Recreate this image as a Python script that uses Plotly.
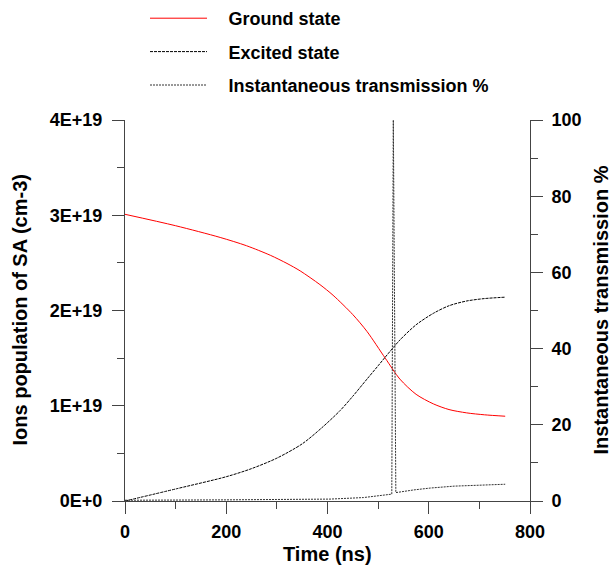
import plotly.graph_objects as go

# ---- data ----
ground_t = [0, 100, 188, 240, 287, 320, 346, 385, 411, 450, 478, 514, 543, 575, 609, 640, 675,
            710, 751]
ground_v = [3.01e19, 2.89e19, 2.767e19, 2.68e19, 2.58e19, 2.494e19, 2.416e19, 2.272e19, 2.16e19,
            1.957e19, 1.78e19, 1.50e19, 1.28e19, 1.12e19, 1.02e19, 0.96e19, 0.925e19, 0.905e19,
            0.89e19]

excited_t = [0, 103, 200, 250, 300, 350, 389, 425, 450, 478, 500, 514, 543, 575, 609, 640, 675,
             710, 751]
excited_v = [0.0, 0.13e19, 0.255e19, 0.34e19, 0.45e19, 0.60e19, 0.77e19, 0.95e19, 1.10e19,
             1.28e19, 1.42e19, 1.51e19, 1.69e19, 1.85e19, 1.97e19, 2.05e19, 2.10e19, 2.125e19,
             2.14e19]

trans_t = [0, 100, 200, 300, 405, 471, 500, 527, 530, 535, 570, 603, 650, 700, 751]
trans_v = [0.2, 0.2, 0.3, 0.4, 0.5, 0.9, 1.3, 1.8, 100, 2.2, 2.9, 3.4, 3.9, 4.2, 4.4]

left_tickvals = [0, 1e19, 2e19, 3e19, 4e19]
left_ticktext = ["0E+0", "1E+19", "2E+19", "3E+19", "4E+19"]

FONT = "Liberation Sans, Arial, sans-serif"
AX = "#444444"
SP = "\u00a0\u00a0\u00a0\u200a"

fig = go.Figure()
fig.add_trace(go.Scatter(x=ground_t, y=ground_v, name=SP + "Ground state", mode="lines",
                         line=dict(color="#ff0000", width=1, shape="spline", smoothing=0.8),
                         legendgroup="a"))
fig.add_trace(go.Scatter(x=excited_t, y=excited_v, name=SP + "Excited state", mode="lines",
                         line=dict(color="black", width=1, dash="3px,1px", shape="spline",
                                   smoothing=0.8),
                         legendgroup="b"))
fig.add_trace(go.Scatter(x=trans_t, y=trans_v, name=SP + "Instantaneous transmission %",
                         mode="lines",
                         line=dict(color="#333333", width=1, dash="2px,1px"),
                         yaxis="y2", legendgroup="c"))

tickfont = dict(family=FONT, size=18, color="black", weight="bold")
titlefont = dict(family=FONT, size=20, color="black", weight="bold")

W, H = 614, 569
L, R, T, B = 125, 84, 120, 68
PW, PH = W - L - R, H - T - B
fig.update_layout(
    width=W, height=H,
    paper_bgcolor="white", plot_bgcolor="white",
    margin=dict(l=L, r=R, t=T, b=B, autoexpand=False),
    font=dict(family=FONT, size=18, color="black"),
    showlegend=True,
    legend=dict(x=145 / W, y=1.0, xanchor="left", yanchor="top", xref="container",
                yref="container",
                bgcolor="rgba(0,0,0,0)", itemwidth=57, tracegroupgap=7,
                traceorder="grouped",
                font=dict(family=FONT, size=18, color="black", weight="bold")),
    xaxis=dict(range=[0, 800], tickvals=[0, 200, 400, 600, 800], showgrid=False, zeroline=False,
               showline=True, linecolor=AX, linewidth=1, ticks="outside", ticklen=12,
               tickcolor=AX, tickwidth=1, tickfont=tickfont, ticklabelstandoff=2,
               minor=dict(dtick=100, ticks="outside", ticklen=7, tickcolor=AX)),
    yaxis=dict(range=[0, 4e19], tickvals=left_tickvals, ticktext=left_ticktext, showgrid=False,
               zeroline=False, showline=True, linecolor=AX, linewidth=1, ticks="outside",
               ticklen=12, tickcolor=AX, tickfont=tickfont, ticklabelstandoff=6,
               minor=dict(tickvals=[0.5e19, 1.5e19, 2.5e19, 3.5e19], ticks="outside", ticklen=7,
                          tickcolor=AX)),
    yaxis2=dict(range=[0, 100], tickvals=[0, 20, 40, 60, 80, 100], overlaying="y", side="right",
                showgrid=False, zeroline=False, showline=True, linecolor=AX, linewidth=1,
                ticks="outside", ticklen=12, tickcolor=AX, tickfont=tickfont,
                ticklabelstandoff=5,
                minor=dict(dtick=10, ticks="outside", ticklen=7, tickcolor=AX)),
    annotations=[
        dict(text="Time (ns)", xref="paper", yref="paper", x=0.5, y=(H - B - 554) / PH,
             xanchor="center", yanchor="middle", showarrow=False, font=titlefont),
        dict(text="Ions population of SA (cm-3)", xref="paper", yref="paper",
             x=(19 - L) / PW, y=0.5, xanchor="center", yanchor="middle", textangle=-90,
             showarrow=False, font=titlefont),
        dict(text="Instantaneous transmission %", xref="paper", yref="paper",
             x=(600 - L) / PW, y=0.5, xanchor="center", yanchor="middle", textangle=-90,
             showarrow=False, font=titlefont),
    ],
)

fig.write_html("out.html", config={"displayModeBar": False},
               post_script="document.body.style.margin='0';")
